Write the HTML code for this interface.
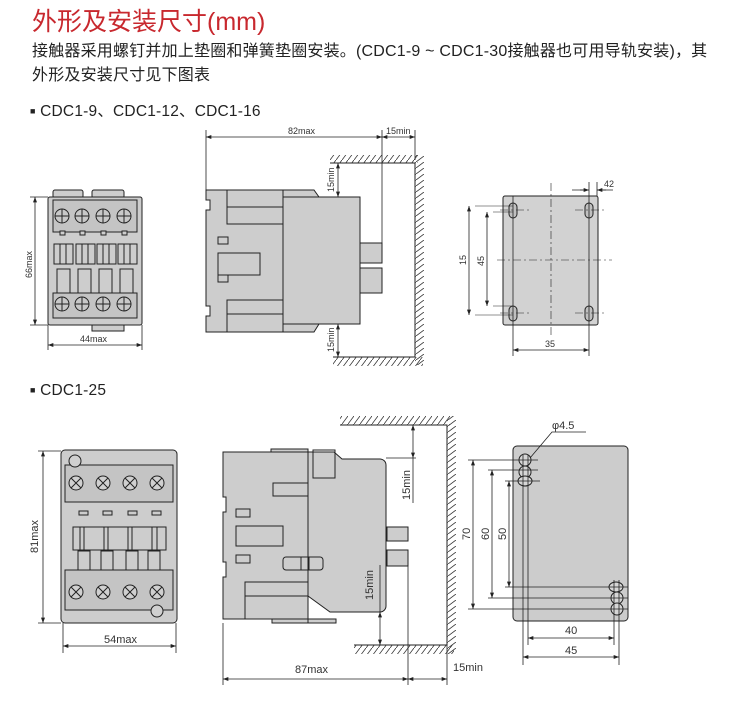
<!DOCTYPE html>
<html><head><meta charset="utf-8"><style>
body{margin:0;background:#fff;width:750px;height:705px;overflow:hidden;font-family:"Liberation Sans","Noto Sans CJK SC",sans-serif}
.t{position:absolute;left:32px;top:2px;color:#c8282e;font-size:25px;font-family:"Liberation Sans","Noto Sans CJK SC",sans-serif}
.p{position:absolute;left:32px;font-size:16px;color:#222;line-height:24px;letter-spacing:0.2px;white-space:nowrap}
svg{position:absolute;left:0;top:0}
</style></head><body>
<div class="t">外形及安装尺寸(mm)</div>
<div class="p" style="top:40px">接触器采用螺钉并加上垫圈和弹簧垫圈安装。(CDC1-9 ~ CDC1-30接触器也可用导轨安装)，其<br>外形及安装尺寸见下图表</div>
<div class="p" style="top:99px;left:30px;font-size:15.5px"><span style="font-size:9px;vertical-align:2px">■</span> CDC1-9、CDC1-12、CDC1-16</div>
<div class="p" style="top:378px;left:30px;font-size:15.5px"><span style="font-size:9px;vertical-align:2px">■</span> CDC1-25</div>
<svg width="750" height="705" viewBox="0 0 750 705" font-family="Liberation Sans, sans-serif">
<defs>
<pattern id="h" width="6" height="8" patternUnits="userSpaceOnUse"><line x1="0" y1="8" x2="6" y2="0" stroke="#333" stroke-width="0.8"/></pattern>
<pattern id="hv" width="8" height="6" patternUnits="userSpaceOnUse"><line x1="0" y1="6" x2="8" y2="0" stroke="#333" stroke-width="0.8"/></pattern>
<marker id="a" viewBox="0 0 8 6" refX="8" refY="3" markerWidth="7" markerHeight="5" orient="auto-start-reverse"><path d="M0,0L8,3L0,6z" fill="#222"/></marker>
</defs>
<g stroke="#222" stroke-width="1" fill="#cdcdcd">
<rect x="53" y="190" width="30" height="8" rx="2"/><rect x="92" y="190" width="32" height="8" rx="2"/>
<rect x="92" y="325" width="32" height="6"/>
<rect x="48" y="197" width="94" height="128" rx="2"/>
<rect x="53" y="200" width="84" height="32" fill="#c4c4c4"/>
<rect x="53" y="293" width="84" height="25" fill="#c4c4c4"/>
<g fill="#c8c8c8"><circle cx="62" cy="216" r="7"/><circle cx="82" cy="216" r="7"/><circle cx="103" cy="216" r="7"/><circle cx="124" cy="216" r="7"/>
<circle cx="62" cy="304" r="7"/><circle cx="82" cy="304" r="7"/><circle cx="103" cy="304" r="7"/><circle cx="124" cy="304" r="7"/></g>
<g fill="none"><path d="M55 216h14M62 209v14M75 216h14M82 209v14M96 216h14M103 209v14M117 216h14M124 209v14M55 304h14M62 297v14M75 304h14M82 297v14M96 304h14M103 297v14M117 304h14M124 297v14"/></g>
<rect x="60" y="231" width="5" height="4"/><rect x="80" y="231" width="5" height="4"/><rect x="101" y="231" width="5" height="4"/><rect x="122" y="231" width="5" height="4"/>
<g fill="none"><rect x="54" y="244" width="19" height="20"/><rect x="76" y="244" width="19" height="20"/><rect x="97" y="244" width="19" height="20"/><rect x="118" y="244" width="19" height="20"/>
<path d="M60 244v20M66 244v20M82 244v20M88 244v20M103 244v20M109 244v20M124 244v20M130 244v20"/>
<rect x="57" y="269" width="13" height="24"/><rect x="78" y="269" width="13" height="24"/><rect x="99" y="269" width="13" height="24"/><rect x="120" y="269" width="13" height="24"/></g>
<path d="M206 190h108l5 7v127l-5 8h-108v-16h4v-10h-4v-96h4v-10h-4z"/>
<rect x="283" y="197" width="77" height="127"/>
<path d="M283 190v142" fill="none"/>
<rect x="227" y="190" width="56" height="17" fill="none"/><rect x="227" y="207" width="56" height="17" fill="none"/>
<rect x="218" y="253" width="42" height="22" fill="none"/><rect x="218" y="237" width="10" height="7" fill="none"/><rect x="218" y="275" width="10" height="7" fill="none"/>
<rect x="227" y="300" width="56" height="14" fill="none"/><rect x="227" y="314" width="56" height="18" fill="none"/>
<rect x="360" y="243" width="22" height="20"/><rect x="360" y="268" width="22" height="25"/>
<rect x="503" y="196" width="95" height="129" rx="2" fill="#d2d2d2"/>
<g fill="#c0c0c0"><rect x="509" y="203" width="8" height="15" rx="4"/><rect x="585" y="203" width="8" height="15" rx="4"/><rect x="509" y="306" width="8" height="15" rx="4"/><rect x="585" y="306" width="8" height="15" rx="4"/></g>
<rect x="61" y="450" width="116" height="173" rx="4"/>
<rect x="65" y="465" width="108" height="37" fill="#c4c4c4"/>
<rect x="65" y="570" width="108" height="40" fill="#c4c4c4"/>
<g fill="#d0d0d0"><circle cx="76" cy="483" r="7"/><circle cx="103" cy="483" r="7"/><circle cx="130" cy="483" r="7"/><circle cx="157" cy="483" r="7"/>
<circle cx="76" cy="592" r="7"/><circle cx="103" cy="592" r="7"/><circle cx="130" cy="592" r="7"/><circle cx="157" cy="592" r="7"/>
<circle cx="75" cy="461" r="6"/><circle cx="157" cy="611" r="6"/></g>
<g fill="none"><path d="M71 478l10 10M81 478l-10 10M98 478l10 10M108 478l-10 10M125 478l10 10M135 478l-10 10M152 478l10 10M162 478l-10 10M71 587l10 10M81 587l-10 10M98 587l10 10M108 587l-10 10M125 587l10 10M135 587l-10 10M152 587l10 10M162 587l-10 10"/>
<rect x="73" y="527" width="93" height="23"/><path d="M80 527v23M84 527v23M104 527v23M108 527v23M128 527v23M132 527v23M152 527v23M157 527v23"/>
<rect x="78" y="551" width="12" height="19"/><rect x="101" y="551" width="12" height="19"/><rect x="126" y="551" width="12" height="19"/><rect x="148" y="551" width="12" height="19"/></g>
<rect x="79" y="511" width="9" height="4"/><rect x="103" y="511" width="9" height="4"/><rect x="128" y="511" width="9" height="4"/><rect x="152" y="511" width="9" height="4"/>
<path d="M223 452h85v167h-85v-42h3v-15h-3v-50h3v-15h-3z"/>
<path d="M308 452h26l8 7h38a6 6 0 0 1 6 6v141a6 6 0 0 1 -6 6h-50l-22 -16z"/>
<rect x="271" y="449" width="37" height="3"/><rect x="272" y="619" width="36" height="4"/><rect x="308" y="619" width="28" height="4"/>
<rect x="313" y="450" width="22" height="28" fill="none"/>
<rect x="273" y="483" width="35" height="13" fill="none"/><rect x="236" y="509" width="14" height="8" fill="none"/><rect x="236" y="526" width="47" height="20" fill="none"/><rect x="236" y="555" width="14" height="8" fill="none"/>
<rect x="283" y="557" width="40" height="13" rx="3" fill="none"/><rect x="301" y="557" width="8" height="13" fill="none"/>
<rect x="245" y="582" width="63" height="14" fill="none"/><rect x="245" y="596" width="63" height="23" fill="none"/>
<rect x="387" y="527" width="21" height="14"/><rect x="387" y="550" width="21" height="16"/>
<rect x="513" y="446" width="115" height="175" rx="4" fill="#cccccc"/>
<g fill="#d6d6d6"><ellipse cx="525" cy="460" rx="6" ry="6"/><ellipse cx="525" cy="472" rx="6" ry="6"/><ellipse cx="525" cy="481" rx="7" ry="5"/>
<ellipse cx="616" cy="587" rx="7" ry="5"/><ellipse cx="617" cy="598" rx="6" ry="6"/><ellipse cx="617" cy="609" rx="6" ry="6"/></g>
</g>
<g stroke="#222" stroke-width="1" fill="none">
<rect x="330" y="155" width="88" height="8" fill="url(#h)" stroke="none"/><rect x="415" y="155" width="9" height="210" fill="url(#hv)" stroke="none"/><rect x="333" y="357" width="90" height="9" fill="url(#h)" stroke="none"/>
<path d="M330 163h85v194h-82"/>
<rect x="340" y="416" width="110" height="9" fill="url(#h)" stroke="none"/><rect x="447" y="416" width="9" height="238" fill="url(#hv)" stroke="none"/><rect x="354" y="645" width="100" height="9" fill="url(#h)" stroke="none"/>
<path d="M340 425h107v220h-93"/>
</g>
<g stroke="#222" stroke-width="0.8" fill="none">
<path d="M35 197V325" marker-start="url(#a)" marker-end="url(#a)"/><path d="M30 197h18M30 325h18M48 325v25M142 325v25"/>
<path d="M48 345H142" marker-start="url(#a)" marker-end="url(#a)"/>
<path d="M206 190v-60M382 243v-113M415 130v30"/>
<path d="M206 137H382" marker-start="url(#a)" marker-end="url(#a)"/><path d="M382 137H415" marker-start="url(#a)" marker-end="url(#a)"/>
<path d="M338 163V197" marker-start="url(#a)" marker-end="url(#a)"/><path d="M338 324V357" marker-start="url(#a)" marker-end="url(#a)"/>
<path d="M475 206H513M493 212H513M475 315H513M493 306H513" stroke-width="0.6"/>
<path d="M469 206V315" marker-start="url(#a)" marker-end="url(#a)"/><path d="M487 212V306" marker-start="url(#a)" marker-end="url(#a)"/>
<path d="M513 196v160M589 182v174M597 182v14"/>
<path d="M513 350H589" marker-start="url(#a)" marker-end="url(#a)"/>
<path d="M572 190h16M597 190h16" /><path d="M580 190H589" marker-end="url(#a)"/><path d="M606 190H597" marker-end="url(#a)"/>
<path d="M551 183V335M497 260H612M500 210h30M575 210h30M500 313h30M575 313h30" stroke-dasharray="8 3 2 3" stroke-width="0.6"/>
<path d="M43 451V623" marker-start="url(#a)" marker-end="url(#a)"/><path d="M38 451h23M38 623h23M63 623v30M176 623v30"/>
<path d="M63 646H176" marker-start="url(#a)" marker-end="url(#a)"/>
<path d="M223 623v62M408 566v119M447 645v40"/>
<path d="M223 679H408" marker-start="url(#a)" marker-end="url(#a)"/><path d="M408 679H447" marker-start="url(#a)" marker-end="url(#a)"/>
<path d="M413 425V458" marker-start="url(#a)" marker-end="url(#a)"/><path d="M386 458h30M413 458v45"/>
<path d="M380 612V645" marker-start="url(#a)" marker-end="url(#a)"/><path d="M380 565v47"/>
<path d="M468 460h70M488 470h50M505 481h35M505 587h123M488 598h140M468 609h160"/>
<path d="M473 460V609" marker-start="url(#a)" marker-end="url(#a)"/><path d="M492 470V598" marker-start="url(#a)" marker-end="url(#a)"/><path d="M509 481V587" marker-start="url(#a)" marker-end="url(#a)"/>
<path d="M523 455v210M528 455v190M614 580v65M619 580v85"/>
<path d="M528 638H614" marker-start="url(#a)" marker-end="url(#a)"/><path d="M523 657H619" marker-start="url(#a)" marker-end="url(#a)"/>
<path d="M586 432h-34l-22 26"/>
</g>
<g font-size="9" fill="#333">
<text x="288" y="134">82max</text><text x="386" y="134">15min</text>
<text transform="translate(334,192) rotate(-90)">15min</text><text transform="translate(334,352) rotate(-90)">15min</text>
<text transform="translate(32,278) rotate(-90)">66max</text><text x="80" y="342">44max</text>
<text x="604" y="187">42</text><text x="545" y="347">35</text>
<text transform="translate(466,265) rotate(-90)">15</text><text transform="translate(484,266) rotate(-90)">45</text>
</g>
<g font-size="11" fill="#333">
<text transform="translate(38,553) rotate(-90)">81max</text><text x="104" y="643">54max</text>
<text x="295" y="673">87max</text><text x="453" y="671">15min</text>
<text transform="translate(410,500) rotate(-90)">15min</text><text transform="translate(373,600) rotate(-90)">15min</text>
<text transform="translate(470,540) rotate(-90)">70</text><text transform="translate(489,540) rotate(-90)">60</text><text transform="translate(506,540) rotate(-90)">50</text>
<text x="565" y="634">40</text><text x="565" y="654">45</text><text x="552" y="429">φ4.5</text>
</g>
</svg>
</body></html>
